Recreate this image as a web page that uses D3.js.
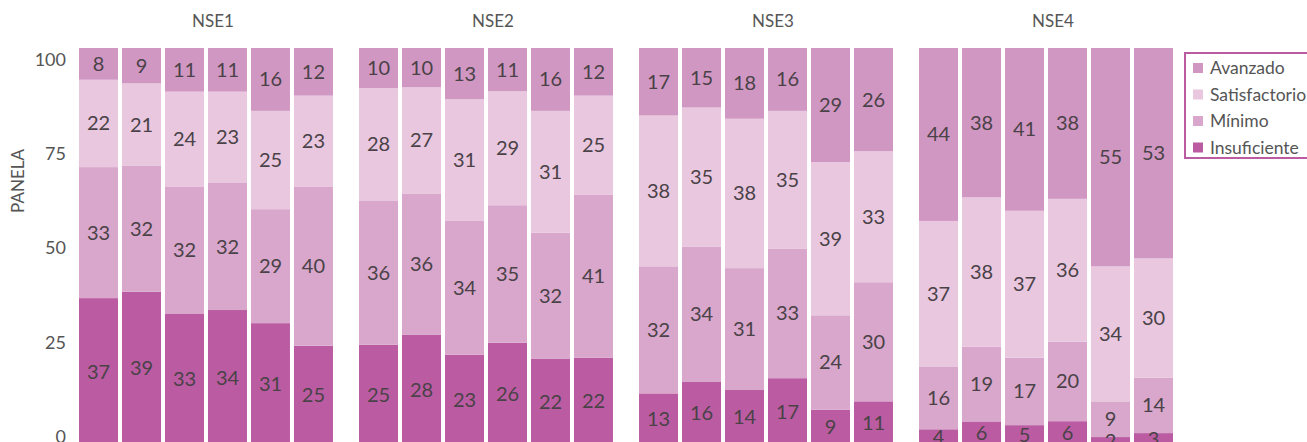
<!DOCTYPE html>
<html>
<head>
<meta charset="utf-8">
<script src="https://cdn.jsdelivr.net/npm/d3@7"></script>
<style>
  body { margin: 0; background: #fff; overflow: hidden; }
  text { font-family: Lato, 'Open Sans', sans-serif; }
</style>
</head>
<body>
<div id="chart"></div>
<script>
// data
const panels = ['NSE1', 'NSE2', 'NSE3', 'NSE4']
const levels = ['Insuficiente', 'Mínimo', 'Satisfactorio', 'Avanzado']
const colors = ['#bb5ca2', '#d8a7cb', '#e8c7df', '#d197c3']
const yTicks = [0, 25, 50, 75, 100]

// one row per bar: [Insuficiente, Mínimo, Satisfactorio, Avanzado]
const nse1 = [[37, 33, 22, 8], [39, 32, 21, 9], [33, 32, 24, 11], [34, 32, 23, 11], [31, 29, 25, 16], [25, 40, 23, 12]]
const nse2 = [[25, 36, 28, 10], [28, 36, 27, 10], [23, 34, 31, 13], [26, 35, 29, 11], [22, 32, 31, 16], [22, 41, 25, 12]]
const nse3 = [[13, 32, 38, 17], [16, 34, 35, 15], [14, 31, 38, 18], [17, 33, 35, 16], [9, 24, 39, 29], [11, 30, 33, 26]]
const nse4 = [[4, 16, 37, 44], [6, 19, 38, 38], [5, 17, 37, 41], [6, 20, 36, 38], [2, 9, 34, 55], [3, 14, 30, 53]]

const W = 1307, H = 442

const svg = d3.select('#chart').append('svg')
  .attr('width', W)
  .attr('height', H)

// build rows for stacking
const rows = []
;[nse1, nse2, nse3, nse4].forEach(function(bars, p) {
  bars.forEach(function(v, i) {
    const r = { panel: panels[p], bar: i }
    levels.forEach(function(l, k) { r[l] = v[k] })
    rows.push(r)
  })
})

const stack = d3.stack().keys(levels).offset(d3.stackOffsetExpand)
const series = stack(rows)

const xPanel = d3.scaleBand().domain(panels).range([79, 1173]).paddingInner(0.093)
const xBar = d3.scaleBand().domain(d3.range(6)).range([0, xPanel.bandwidth()]).paddingInner(0.093)
const y = d3.scaleLinear().domain([0, 1]).range([445, 48])
const color = d3.scaleOrdinal().domain(levels).range(colors)

// y axis labels (sit a bit apart from bar scale in the source)
const yAxisScale = d3.scaleLinear().domain([0, 100]).range([436, 59])
const yAxis = svg.append('g')
  .attr('transform', 'translate(66,0)')
  .call(d3.axisLeft(yAxisScale).tickValues(yTicks).tickSize(0).tickPadding(0))
yAxis.select('.domain').remove()
yAxis.selectAll('text')
  .style('font-size', '18px')
  .attr('fill', '#555')
  .attr('dy', '0.35em')

svg.append('text')
  .attr('transform', 'translate(24,181) rotate(-90)')
  .attr('text-anchor', 'middle')
  .style('font-size', '17px')
  .attr('fill', '#555')
  .text('PANELA')

// panel titles
svg.selectAll('.title')
  .data(panels)
  .enter()
  .append('text')
  .attr('class', 'title')
  .attr('x', function(d) { return xPanel(d) + xBar.step() * 3 + 5 })
  .attr('y', 21)
  .attr('dy', '0.35em')
  .attr('text-anchor', 'middle')
  .style('font-size', '17px')
  .attr('fill', '#555')
  .text(function(d) { return d })

// stacked bars
const layer = svg.selectAll('.layer')
  .data(series)
  .enter()
  .append('g')
  .attr('class', 'layer')
  .attr('fill', function(d) { return color(d.key) })

layer.selectAll('rect')
  .data(function(d) { return d })
  .enter()
  .append('rect')
  .attr('x', function(d) { return xPanel(d.data.panel) + xBar(d.data.bar) })
  .attr('y', function(d) { return y(d[1]) })
  .attr('width', xBar.bandwidth())
  .attr('height', function(d) { return y(d[0]) - y(d[1]) })

// value labels
series.forEach(function(s) {
  svg.append('g').selectAll('text')
    .data(s)
    .enter()
    .append('text')
    .attr('x', function(d) { return xPanel(d.data.panel) + xBar(d.data.bar) + xBar.bandwidth() / 2 })
    .attr('y', function(d) { return (y(d[0]) + y(d[1])) / 2 })
    .attr('dy', '0.35em')
    .attr('text-anchor', 'middle')
    .style('font-size', '20px')
    .attr('fill', '#4a4247')
    .text(function(d) { return d.data[s.key] })
})

// legend
const legend = svg.append('g').attr('transform', 'translate(1185,53)')
legend.append('rect')
  .attr('x', 0)
  .attr('y', 0)
  .attr('width', 140)
  .attr('height', 105)
  .attr('fill', '#fff')
  .attr('stroke', '#bb5ca2')
  .attr('stroke-width', 2)

const item = legend.selectAll('.item')
  .data(levels.slice().reverse())
  .enter()
  .append('g')
  .attr('class', 'item')
  .attr('transform', function(d, i) { return 'translate(8,' + (15 + i * 26.5) + ')' })

item.append('rect')
  .attr('x', 0)
  .attr('y', -5)
  .attr('width', 10)
  .attr('height', 10)
  .attr('fill', function(d) { return color(d) })

item.append('text')
  .attr('x', 17)
  .attr('dy', '0.35em')
  .style('font-size', '17.5px')
  .attr('fill', '#555')
  .text(function(d) { return d })
</script>
</body>
</html>
